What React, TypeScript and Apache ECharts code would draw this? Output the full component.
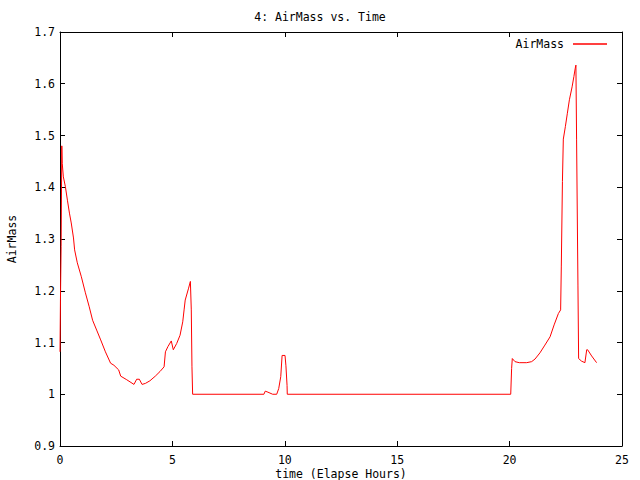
import React, { useEffect, useRef } from "react";
import * as echarts from "echarts";

const hours = [
  0, 0.02, 0.05, 0.08, 0.1, 0.15, 0.24, 0.33, 0.42, 0.5, 0.6, 0.65, 0.77, 0.95, 1.13, 1.3, 1.45, 1.63, 1.81,
  2.02, 2.25, 2.4, 2.61, 2.7, 2.97, 3.29, 3.41, 3.53, 3.65, 3.8, 4.0, 4.24, 4.45, 4.63, 4.69, 4.8, 4.95,
  5.04, 5.19, 5.34, 5.46, 5.52, 5.57, 5.72, 5.8, 5.84, 5.87, 5.9,
  9.07, 9.13, 9.25, 9.46, 9.64, 9.73, 9.82, 9.88, 10.01, 10.05, 10.1, 10.11,
  20.05, 20.09, 20.12, 20.24, 20.43, 20.76, 20.98, 21.13, 21.35, 21.57, 21.8, 21.98, 22.17, 22.27,
  22.3, 22.35, 22.39, 22.48, 22.57, 22.66, 22.78, 22.86, 22.92, 22.95, 22.98, 23.04, 23.07, 23.2,
  23.35, 23.43, 23.47, 23.65, 23.87,
];
const airMass = [
  1.082, 1.182, 1.285, 1.48, 1.446, 1.42, 1.401, 1.375, 1.35, 1.331, 1.302, 1.279, 1.254, 1.227, 1.196, 1.169, 1.143, 1.124, 1.105,
  1.082, 1.06, 1.056, 1.047, 1.035, 1.028, 1.019, 1.029, 1.029, 1.019, 1.021, 1.026, 1.035, 1.044, 1.053, 1.082, 1.092, 1.103,
  1.086, 1.098, 1.114, 1.14, 1.163, 1.182, 1.205, 1.218, 1.163, 1.053, 1.0,
  1.0, 1.006, 1.004, 1.0, 1.0, 1.011, 1.034, 1.075, 1.075, 1.055, 1.017, 1.0,
  1.0, 1.05, 1.069, 1.063, 1.061, 1.061, 1.063, 1.068, 1.08, 1.095, 1.111, 1.134, 1.156, 1.163,
  1.246, 1.411, 1.493, 1.517, 1.543, 1.569, 1.594, 1.614, 1.63, 1.636, 1.493, 1.211, 1.069, 1.064,
  1.061, 1.086, 1.086, 1.074, 1.061,
];

const FONT = "DejaVu Sans Mono";

export default function App() {
  const ref = useRef<HTMLDivElement>(null);
  useEffect(() => {
    if (!ref.current) return;
    const chart = echarts.init(ref.current, null, { renderer: "svg" });
    const data = hours.map((h, i) => [h, airMass[i]]);
    const axisCommon = {
      axisLine: { show: true, onZero: false, lineStyle: { color: "#000", width: 1 } },
      axisTick: { show: true, inside: true, length: 5, lineStyle: { color: "#000" } },
      splitLine: { show: false },
    };
    chart.setOption({
      animation: false,
      backgroundColor: "#fff",
      textStyle: { fontFamily: FONT },
      title: {
        text: "4: AirMass vs. Time",
        left: "center",
        top: 6,
        textStyle: { fontFamily: FONT, fontSize: 11.5, fontWeight: "normal", color: "#000" },
      },
      legend: {
        right: 28,
        top: 33,
        align: "right",
        icon: "rect",
        itemWidth: 34,
        itemHeight: 1.5,
        itemGap: 0,
        textStyle: { fontFamily: FONT, fontSize: 11.5, color: "#000", padding: [0, 4, 0, 0] },
        data: ["AirMass"],
      },
      grid: { left: 60, right: 18, top: 32, bottom: 34, show: false, outerBoundsMode: "none", containLabel: false },
      xAxis: [
        {
          ...axisCommon,
          type: "value",
          min: 0,
          max: 25,
          interval: 5,
          name: "time (Elapse Hours)",
          nameLocation: "middle",
          nameGap: 22,
          nameMoveOverlap: false,
          nameTextStyle: { fontFamily: FONT, fontSize: 11.5, color: "#000", lineHeight: 12 },
          axisLabel: { fontFamily: FONT, fontSize: 11.5, color: "#000", margin: 8, lineHeight: 12 },
        },
        {
          ...axisCommon,
          type: "value",
          position: "top",
          min: 0,
          max: 25,
          interval: 5,
          axisLabel: { show: false },
        },
      ],
      yAxis: [
        {
          ...axisCommon,
          type: "value",
          min: 0.9,
          max: 1.7,
          interval: 0.1,
          name: "AirMass",
          nameLocation: "middle",
          nameGap: 42,
          nameMoveOverlap: false,
          nameRotate: 90,
          nameTextStyle: { fontFamily: FONT, fontSize: 11.5, color: "#000" },
          axisLabel: {
            fontFamily: FONT,
            fontSize: 11.5,
            color: "#000",
            margin: 5,
            formatter: (v: number) => String(Math.round(v * 10) / 10),
          },
        },
        {
          ...axisCommon,
          type: "value",
          position: "right",
          min: 0.9,
          max: 1.7,
          interval: 0.1,
          axisLabel: { show: false },
        },
      ],
      series: [
        {
          name: "AirMass",
          type: "line",
          data,
          showSymbol: false,
          symbol: "none",
          lineStyle: { color: "#ff0000", width: 1 },
          itemStyle: { color: "#ff0000" },
        },
      ],
    });
    return () => chart.dispose();
  }, []);
  return <div ref={ref} style={{ width: 640, height: 480, position: "absolute", left: 0, top: 0 }} />;
}
